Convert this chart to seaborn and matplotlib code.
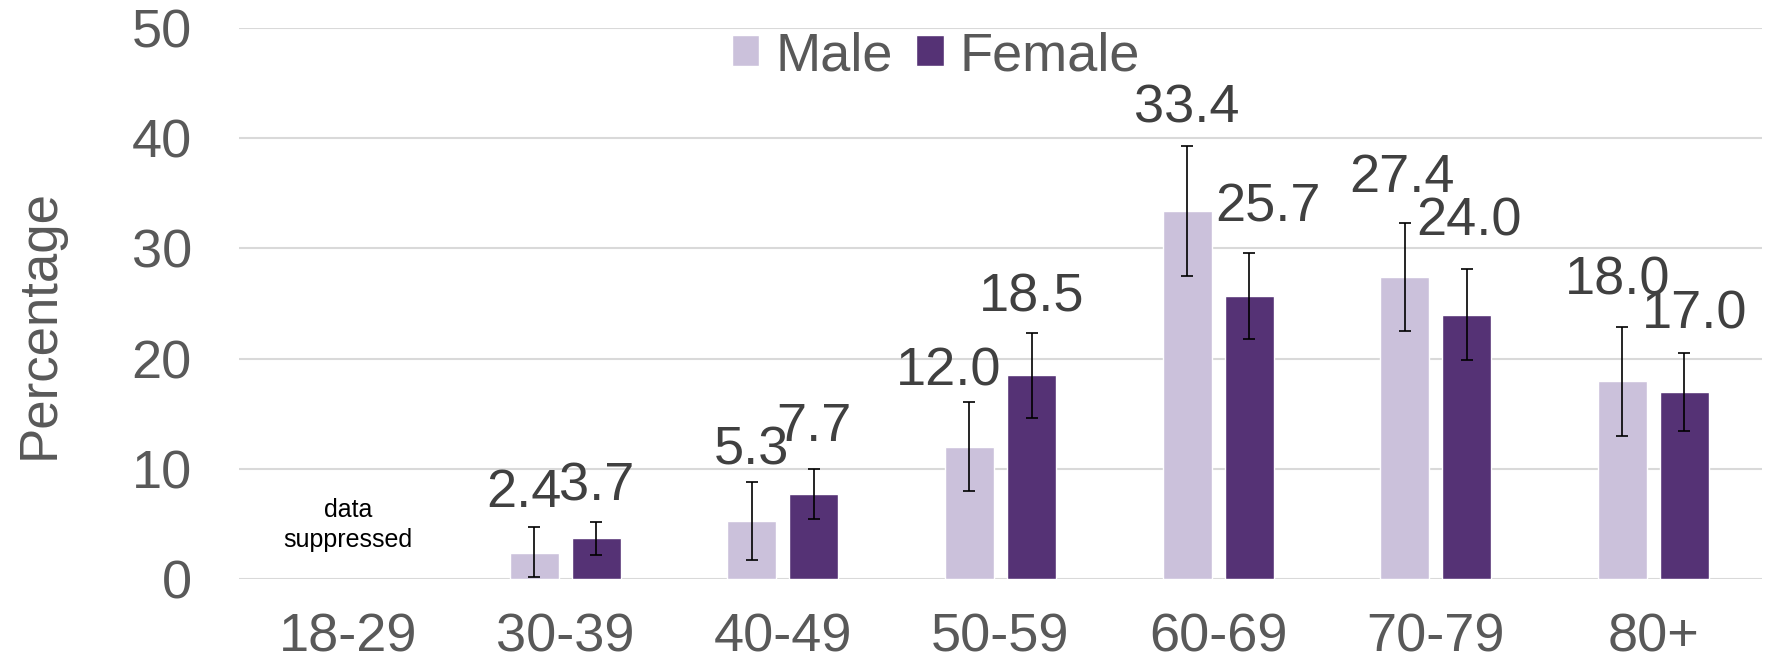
import numpy as np
import pandas as pd
import matplotlib
matplotlib.use("Agg")
import matplotlib.pyplot as plt
import seaborn as sns

# data
age_groups = ['18-29', '30-39', '40-49', '50-59', '60-69', '70-79', '80+']
male = [np.nan, 2.4, 5.3, 12.0, 33.4, 27.4, 18.0]
female = [np.nan, 3.7, 7.7, 18.5, 25.7, 24.0, 17.0]
male_lo = [np.nan, 0.2, 1.7, 8.0, 27.5, 22.5, 13.0]
male_hi = [np.nan, 4.7, 8.8, 16.1, 39.3, 32.3, 22.9]
female_lo = [np.nan, 2.2, 5.4, 14.6, 21.8, 19.9, 13.4]
female_hi = [np.nan, 5.2, 10.0, 22.3, 29.6, 28.1, 20.5]

# label nudges (category units / data units), as placed in the original
label_dx = {'Male': [0, -0.046, 0.0, -0.097, 0.0, -0.01, -0.02],
            'Female': [0, 0.0, 0.0, 0.0, 0.088, 0.01, 0.046]}
label_dy = {'Male': [0, 3.1, 2.9, 2.7, 3.4, 4.1, 4.2],
            'Female': [0, 3.2, 3.8, 3.2, 4.1, 4.3, 3.5]}

df = pd.DataFrame({
    'Age': age_groups * 2,
    'Sex': ['Male'] * len(age_groups) + ['Female'] * len(age_groups),
    'Percentage': male + female,
})
ci = {'Male': (male_lo, male_hi), 'Female': (female_lo, female_hi)}

sns.set_theme(style="whitegrid")
plt.rcParams['font.family'] = ['Liberation Sans', 'DejaVu Sans']

colors = {'Male': '#CBC1DB', 'Female': '#553275'}

fig = plt.figure(figsize=(17.68, 6.66), dpi=100)
ax = fig.add_axes([239 / 1768, 1 - 579 / 666, 1523 / 1768, 551 / 666])

sns.barplot(data=df, x='Age', y='Percentage', hue='Sex', order=age_groups,
            hue_order=['Male', 'Female'], palette=colors, errorbar=None,
            width=0.57, gap=0.21, saturation=1, ax=ax)

for cont, sex in zip(ax.containers, ['Male', 'Female']):
    lo, hi = ci[sex]
    for bar in cont:
        h = bar.get_height()
        if np.isnan(h):
            continue
        xc = bar.get_x() + bar.get_width() / 2
        i = int(round(xc))
        ax.errorbar(xc, h, yerr=[[h - lo[i]], [hi[i] - h]], fmt='none',
                    ecolor='black', elinewidth=1.2, capsize=4.5, capthick=1.2)
        ax.text(xc + label_dx[sex][i], hi[i] + label_dy[sex][i], f'{h:.1f}',
                ha='center', va='center', fontsize=39, color='#404040')

ax.text(0, 4.9, 'data\nsuppressed', ha='center', va='center', fontsize=18,
        color='black', linespacing=1.3)

ax.set_ylim(0, 50)
ax.set_xlim(-0.5, 6.5)
ax.set_yticks(range(0, 51, 10))
ax.grid(axis='y', color='#D9D9D9', linewidth=1.5)
ax.grid(axis='x', visible=False)
for s in ax.spines.values():
    s.set_visible(False)
ax.tick_params(axis='both', length=0, labelsize=39, colors='#595959')
ax.tick_params(axis='y', pad=34)
ax.tick_params(axis='x', pad=24)
ax.set_xlabel('')
ax.set_ylabel('Percentage', fontsize=38, color='#595959', va='center')
ax.yaxis.set_label_coords(-0.1307, 0.463)

leg = ax.legend(loc='center', bbox_to_anchor=(0.4577, 0.949), ncol=2, frameon=False,
                fontsize=39, handlelength=0.5, handleheight=0.5,
                handletextpad=0.3, columnspacing=0.44, borderpad=0)
for t in leg.get_texts():
    t.set_color('#595959')

fig.savefig('out.png', dpi=100)
